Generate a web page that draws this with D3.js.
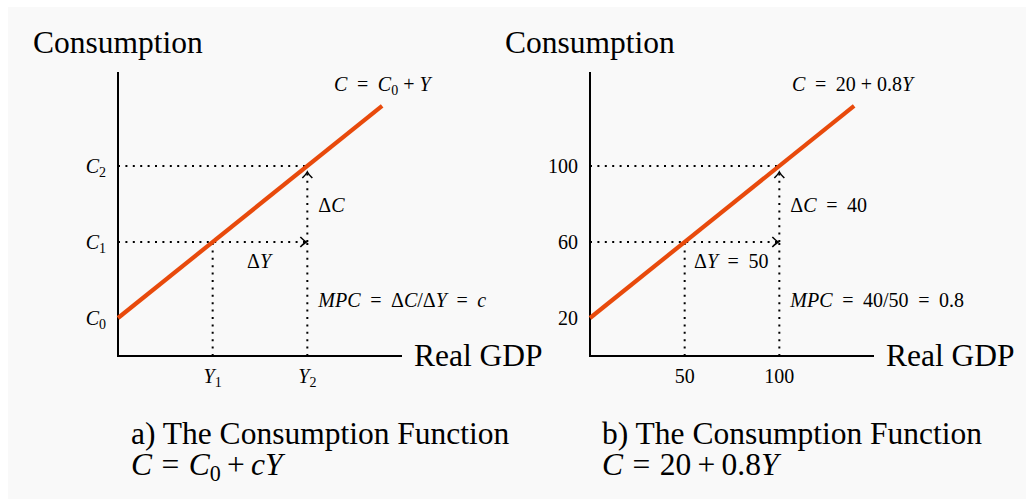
<!DOCTYPE html>
<html>
<head>
<meta charset="utf-8">
<script src="https://cdn.jsdelivr.net/npm/d3@7"></script>
<style>
  html, body { margin: 0; padding: 0; background: #ffffff; }
  svg { display: block; }
  text { font-family: "Liberation Serif", "Times New Roman", serif; fill: #000; }
</style>
</head>
<body>
<svg id="chart" width="1026" height="499"></svg>
<script>
// values (both panels share the same numbers, the left one uses symbols)
const gdpMarks = [50, 100];          // Y1, Y2
const consMarks = [20, 60, 100];     // C0, C1, C2
const lineGdp = [0, 139.5];          // ends of the consumption line
const lineCons = [20, 131.6];

const leftYTicks = [["C", "0"], ["C", "1"], ["C", "2"]];
const leftXTicks = [["Y", "1"], ["Y", "2"]];
const rightYTicks = ["20", "60", "100"];
const rightXTicks = ["50", "100"];

// math labels: [text, style]  i = italic, r = roman, s = subscript, o = operator
const leftEq = [["C", "i"], ["=", "o"], ["C", "i"], ["0", "s"], ["+", "o"], ["Y", "i"]];
const rightEq = [["C", "i"], ["=", "o"], ["20", "r"], ["+", "o"], ["0.8", "r"], ["Y", "i"]];
const leftDC = [["Δ", "r"], ["C", "i"]];
const rightDC = [["Δ", "r"], ["C", "i"], ["=", "o"], ["40", "r"]];
const leftDY = [["Δ", "r"], ["Y", "i"]];
const rightDY = [["Δ", "r"], ["Y", "i"], ["=", "o"], ["50", "r"]];
const leftMPC = [["MPC", "i"], ["=", "o"], ["Δ", "r"], ["C", "i"], ["/Δ", "r"], ["Y", "i"], ["=", "o"], ["c", "i"]];
const rightMPC = [["MPC", "i"], ["=", "o"], ["40/50", "r"], ["=", "o"], ["0.8", "r"]];
const captionA = [["C", "i"], ["=", "o"], ["C", "i"], ["0", "s"], ["+", "o"], ["cY", "i"]];
const captionB = [["C", "i"], ["=", "o"], ["20", "r"], ["+", "o"], ["0.8", "r"], ["Y", "i"]];

const svg = d3.select("#chart");
const red = "#e84a0c";

svg.append("rect")
    .attr("x", 8).attr("y", 7)
    .attr("width", 1026 - 8).attr("height", 499 - 7)
    .attr("fill", "#f9f9f9");

svg.append("defs").append("marker")
    .attr("id", "chev")
    .attr("viewBox", "-8 -6 10 12")
    .attr("refX", 0).attr("refY", 0)
    .attr("markerWidth", 10).attr("markerHeight", 12)
    .attr("markerUnits", "userSpaceOnUse")
    .attr("orient", "auto")
    .append("path")
    .attr("d", "M-6,-5 Q-2,-1 0,0 Q-2,1 -6,5")
    .attr("fill", "none")
    .attr("stroke", "#000")
    .attr("stroke-width", 1.6);

// gaps around = and + in em
function addMath(g, x, y, parts, size, anchor, eqGap = 0.48, plusGap = 0.25) {
    const t = g.append("text")
        .attr("x", x).attr("y", y)
        .attr("font-size", size)
        .attr("text-anchor", anchor || "start");
    let dx = 0, dy = 0;
    parts.forEach(p => {
        const s = t.append("tspan").text(p[0]);
        const gap = (p[0] === "=" ? eqGap : plusGap) * size;
        if (p[1] === "i") s.attr("font-style", "italic");
        if (p[1] === "o") dx += gap;
        if (p[1] === "s") {
            s.attr("font-size", size * 0.7);
            dy += size * 0.2;
        }
        if (dx) s.attr("dx", dx);
        if (dy) s.attr("dy", dy);
        dx = p[1] === "o" ? gap : 0;
        dy = p[1] === "s" ? -size * 0.2 : 0;
    });
    return t;
}

function panel(x0, opts) {
    const g = svg.append("g");
    const x = d3.scaleLinear().domain([0, 150]).range([x0, x0 + 284]);
    const y = d3.scaleLinear().domain([0, 150]).range([356, 71]);
    const dots = "2 5.4";

    // guide lines
    const dotted = (x1, y1, x2, y2, arrow) => {
        const l = g.append("line")
            .attr("x1", x1).attr("y1", y1).attr("x2", x2).attr("y2", y2)
            .attr("stroke", "#000")
            .attr("stroke-width", 2)
            .attr("stroke-dasharray", dots);
        if (arrow) l.attr("marker-end", "url(#chev)");
    };
    dotted(x(0), y(consMarks[2]), x(gdpMarks[1]), y(consMarks[2]));
    dotted(x(0), y(consMarks[1]), x(gdpMarks[1]) - 1, y(consMarks[1]), true);
    dotted(x(gdpMarks[0]), y(0), x(gdpMarks[0]), y(consMarks[1]));
    dotted(x(gdpMarks[1]), y(0), x(gdpMarks[1]), y(consMarks[1]));
    dotted(x(gdpMarks[1]), y(consMarks[1]), x(gdpMarks[1]), y(consMarks[2]) + 6, true);

    // axes
    g.append("path")
        .attr("d", `M${x(0)},${y(150) + 1}V${y(0)}H${x(150)}`)
        .attr("fill", "none")
        .attr("stroke", "#000")
        .attr("stroke-width", 2);

    // consumption line
    g.append("path")
        .datum(d3.zip(lineGdp, lineCons))
        .attr("fill", "none")
        .attr("stroke", red)
        .attr("stroke-width", 4.2)
        .attr("d", d3.line().x(d => x(d[0])).y(d => y(d[1])));

    // tick labels
    consMarks.forEach((c, i) => {
        addMath(g, x(0) - 12, y(c) + 7, opts.yTicks[i], 20, "end");
    });
    gdpMarks.forEach((v, i) => {
        addMath(g, x(v), 383, opts.xTicks[i], 20, "middle");
    });

    // axis titles
    g.append("text").attr("x", opts.consX).attr("y", 53)
        .attr("font-size", 31.5).text("Consumption");
    g.append("text").attr("x", x(150) + 12).attr("y", 366)
        .attr("font-size", 31.5).text("Real GDP");

    // annotations
    addMath(g, opts.eqX, 91, opts.eq, 20);
    addMath(g, x(gdpMarks[1]) + 11, 212, opts.dC, 20);
    addMath(g, opts.dYX, 268, opts.dY, 20);
    addMath(g, x(gdpMarks[1]) + 11, 307, opts.mpc, 20);

    // caption
    g.append("text").attr("x", opts.capX).attr("y", 444)
        .attr("font-size", 31.5).text(opts.cap);
    addMath(g, opts.capX, 475, opts.capEq, 31.5, "start", 0.3, 0.2);
}

panel(118, {
    yTicks: leftYTicks.map(d => [[d[0], "i"], [d[1], "s"]]),
    xTicks: leftXTicks.map(d => [[d[0], "i"], [d[1], "s"]]),
    consX: 33, eqX: 334, dYX: 247,
    eq: leftEq, dC: leftDC, dY: leftDY, mpc: leftMPC,
    capX: 131, cap: "a) The Consumption Function", capEq: captionA
});

panel(590, {
    yTicks: rightYTicks.map(d => [[d, "r"]]),
    xTicks: rightXTicks.map(d => [[d, "r"]]),
    consX: 505, eqX: 792, dYX: 694,
    eq: rightEq, dC: rightDC, dY: rightDY, mpc: rightMPC,
    capX: 602, cap: "b) The Consumption Function", capEq: captionB
});
</script>
</body>
</html>
